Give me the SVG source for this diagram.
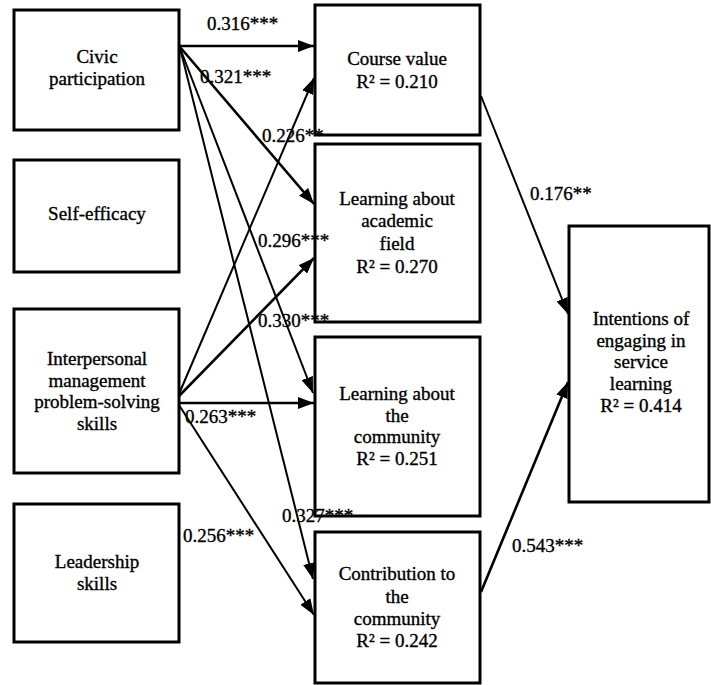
<svg xmlns="http://www.w3.org/2000/svg" width="711" height="685" viewBox="0 0 711 685">
<style>
  .box { fill: #fff; stroke: #000; stroke-width: 3; }
  text { font-family: 'Liberation Serif', 'DejaVu Serif', serif; font-size: 19px; fill: #000; stroke: #000; stroke-width: 0.35; }
  .t { text-anchor: middle; }
  .c { fill: none; stroke: #000; stroke-width: 2; marker-end: url(#ah); }
  .ct { fill: none; stroke: #000; stroke-width: 2.6; marker-end: url(#ah); }
</style>
<defs>
  <marker id="ah" viewBox="0 0 16 12" refX="16" refY="6" markerWidth="16" markerHeight="12" markerUnits="userSpaceOnUse" orient="auto">
    <path d="M0,0 L16,6 L0,12 Z" fill="#000"/>
  </marker>
</defs>

<g id="civic">
  <rect class="box" x="14" y="10" width="165" height="120"/>
  <text class="t" x="97" y="63" font-family="Liberation Serif, serif">Civic</text>
  <text class="t" x="97" y="85" font-family="Liberation Serif, serif">participation</text>
</g>
<g id="selfefficacy">
  <rect class="box" x="14" y="160" width="165" height="112"/>
  <text class="t" x="97" y="220" font-family="Liberation Serif, serif">Self-efficacy</text>
</g>
<g id="interpersonal">
  <rect class="box" x="14" y="309" width="165" height="164"/>
  <text class="t" x="97" y="365" font-family="Liberation Serif, serif">Interpersonal</text>
  <text class="t" x="97" y="387" font-family="Liberation Serif, serif">management</text>
  <text class="t" x="97" y="408" font-family="Liberation Serif, serif">problem-solving</text>
  <text class="t" x="97" y="430" font-family="Liberation Serif, serif">skills</text>
</g>
<g id="leadership">
  <rect class="box" x="14" y="504" width="165" height="138"/>
  <text class="t" x="97" y="568" font-family="Liberation Serif, serif">Leadership</text>
  <text class="t" x="97" y="590" font-family="Liberation Serif, serif">skills</text>
</g>

<g id="coursevalue">
  <rect class="box" x="315" y="5" width="165" height="130"/>
  <text class="t" x="397" y="65" font-family="Liberation Serif, serif">Course value</text>
  <text class="t" x="397" y="88" font-family="Liberation Serif, serif">R² = 0.210</text>
</g>
<g id="academic">
  <rect class="box" x="315" y="144" width="165" height="178"/>
  <text class="t" x="397" y="205" font-family="Liberation Serif, serif">Learning about</text>
  <text class="t" x="397" y="227" font-family="Liberation Serif, serif">academic</text>
  <text class="t" x="397" y="250" font-family="Liberation Serif, serif">field</text>
  <text class="t" x="397" y="273" font-family="Liberation Serif, serif">R² = 0.270</text>
</g>
<g id="community">
  <rect class="box" x="315" y="337" width="165" height="179"/>
  <text class="t" x="397" y="400" font-family="Liberation Serif, serif">Learning about</text>
  <text class="t" x="397" y="422" font-family="Liberation Serif, serif">the</text>
  <text class="t" x="397" y="443" font-family="Liberation Serif, serif">community</text>
  <text class="t" x="397" y="465" font-family="Liberation Serif, serif">R² = 0.251</text>
</g>
<g id="contribution">
  <rect class="box" x="315" y="532" width="165" height="151"/>
  <text class="t" x="397" y="580" font-family="Liberation Serif, serif">Contribution to</text>
  <text class="t" x="397" y="603" font-family="Liberation Serif, serif">the</text>
  <text class="t" x="397" y="625" font-family="Liberation Serif, serif">community</text>
  <text class="t" x="397" y="647" font-family="Liberation Serif, serif">R² = 0.242</text>
</g>

<g id="intentions">
  <rect class="box" x="569" y="226" width="140" height="276"/>
  <text class="t" x="641" y="325" font-family="Liberation Serif, serif">Intentions of</text>
  <text class="t" x="641" y="347" font-family="Liberation Serif, serif">engaging in</text>
  <text class="t" x="641" y="368" font-family="Liberation Serif, serif">service</text>
  <text class="t" x="641" y="390" font-family="Liberation Serif, serif">learning</text>
  <text class="t" x="641" y="412" font-family="Liberation Serif, serif">R² = 0.414</text>
</g>

<g id="connectors">
  <line class="ct" x1="179" y1="46" x2="314" y2="46"/>
  <line class="ct" x1="180" y1="47" x2="314" y2="204"/>
  <line class="c" x1="180" y1="48" x2="313" y2="393"/>
  <line class="c" x1="180" y1="48" x2="313" y2="579"/>
  <line class="c" x1="179" y1="394" x2="314" y2="78"/>
  <line class="ct" x1="179" y1="396" x2="314" y2="258"/>
  <line class="ct" x1="179" y1="403" x2="314" y2="403"/>
  <line class="c" x1="179" y1="405" x2="314" y2="615"/>
  <line class="c" x1="481" y1="96" x2="568" y2="314"/>
  <line class="ct" x1="481" y1="592" x2="568" y2="382"/>
</g>

<g id="labels">
  <text x="207" y="30" font-family="Liberation Serif, serif">0.316***</text>
  <text x="200" y="83" font-family="Liberation Serif, serif">0.321***</text>
  <text x="262" y="142" font-family="Liberation Serif, serif">0.226**</text>
  <text x="258" y="247" font-family="Liberation Serif, serif">0.296***</text>
  <text x="258" y="327" font-family="Liberation Serif, serif">0.330***</text>
  <text x="185" y="423" font-family="Liberation Serif, serif">0.263***</text>
  <text x="282" y="522" font-family="Liberation Serif, serif">0.327***</text>
  <text x="183" y="542" font-family="Liberation Serif, serif">0.256***</text>
  <text x="530" y="200" font-family="Liberation Serif, serif">0.176**</text>
  <text x="512" y="552" font-family="Liberation Serif, serif">0.543***</text>
</g>
</svg>
